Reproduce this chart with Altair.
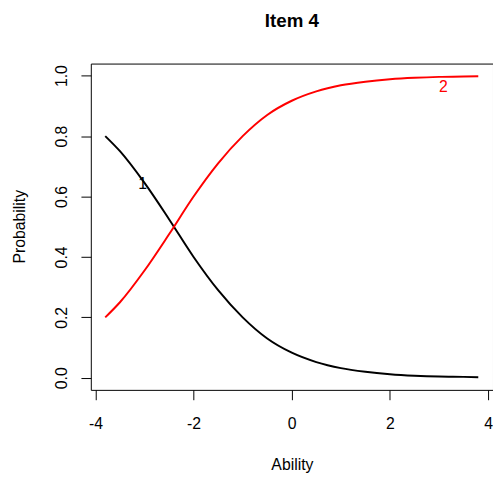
import altair as alt
import pandas as pd

ability = [-3.8, -3.5, -3.0, -2.5, -2.0, -1.5, -1.0, -0.5, 0.0, 0.5, 1.0, 1.5, 2.0, 2.5, 3.0, 3.5, 3.8]
prob_cat1 = [0.80, 0.75, 0.645, 0.525, 0.40, 0.29, 0.20, 0.13, 0.083, 0.052, 0.032, 0.02, 0.012, 0.007, 0.004, 0.003, 0.002]
prob_cat2 = [0.20, 0.25, 0.355, 0.475, 0.60, 0.71, 0.80, 0.87, 0.917, 0.948, 0.968, 0.98, 0.988, 0.993, 0.996, 0.997, 0.998]

categories = ["1", "2"]
colors = ["#000000", "#FF0000"]
label_x = [-3.04, 3.09]
label_y = [0.64, 0.962]

x_ticks = [-4, -2, 0, 2, 4]
y_ticks = [0.0, 0.2, 0.4, 0.6, 0.8, 1.0]

rows = []
for c, ys in zip(categories, [prob_cat1, prob_cat2]):
    for a, p in zip(ability, ys):
        rows.append({"Ability": a, "Probability": p, "cat": c})
df = pd.DataFrame(rows)
lab = pd.DataFrame({"Ability": label_x, "Probability": label_y, "cat": categories})

FONT = "Liberation Sans"
xs = alt.Scale(domain=[-4.094, 4.10], nice=False, zero=False)
ys = alt.Scale(domain=[-0.04, 1.04], nice=False, zero=False)
cs = alt.Scale(domain=categories, range=colors)

lines = alt.Chart(df).mark_line(strokeWidth=2, interpolate="monotone").encode(
    x=alt.X("Ability:Q", scale=xs, axis=alt.Axis(
        values=x_ticks, labelExpr="'' + datum.value", title="Ability",
        domain=False, grid=False,
        tickSize=10, tickColor="black", labelColor="black", labelFontSize=16,
        labelFont=FONT, labelPadding=16, titleFont=FONT, titleFontSize=16,
        titleFontWeight="normal", titleColor="black", titleX=204, titleY=76,
        titleBaseline="middle")),
    y=alt.Y("Probability:Q", scale=ys, axis=alt.Axis(
        values=y_ticks, format=".1f", title="Probability", domain=False, grid=False,
        tickSize=10, tickColor="black", labelColor="black", labelFontSize=16,
        labelFont=FONT, labelPadding=12, labelAngle=-90, labelAlign="center",
        labelBaseline="bottom", titleFont=FONT, titleFontSize=16,
        titleFontWeight="normal", titleColor="black", titleX=-72, titleY=165,
        titleBaseline="middle", titleAngle=-90)),
    color=alt.Color("cat:N", scale=cs, legend=None),
    detail="cat:N",
)

labels = alt.Chart(lab).mark_text(fontSize=16, font=FONT).encode(
    x=alt.X("Ability:Q", scale=xs),
    y=alt.Y("Probability:Q", scale=ys),
    text="cat:N",
    color=alt.Color("cat:N", scale=cs, legend=None),
)

chart = alt.layer(lines, labels).properties(
    width=408, height=331,
    title=alt.TitleParams("Item 4", font=FONT, fontSize=19, fontWeight="bold",
                          color="black", offset=33, anchor="middle"),
    autosize=alt.AutoSizeParams(type="none"),
    padding={"left": 84, "top": 53, "right": 0, "bottom": 85},
).configure_view(stroke="black", strokeWidth=1)

chart.save("out.html", embed_options={"renderer": "svg", "actions": False})
